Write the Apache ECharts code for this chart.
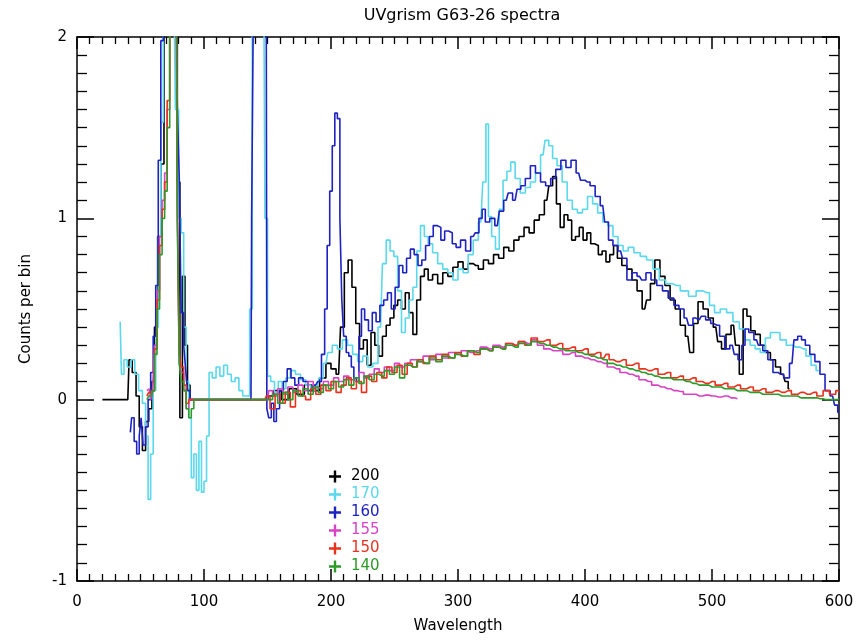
<!DOCTYPE html>
<html>
<head>
<meta charset="utf-8">
<script src="https://cdn.jsdelivr.net/npm/echarts@6/dist/echarts.min.js"></script>
<style>
  html, body { margin: 0; padding: 0; background: #fff; }
  #chart { width: 862px; height: 643px; }
</style>
</head>
<body>
<div id="chart"></div>
<script>
// [wavelength, counts] pairs, one list per extraction
const spec200 = [[20,0],[40,0],[42,0.22],[45,0.15],[48,0.02],[50,-0.15],[53,-0.28],[55,-0.12],[58,-0.05],[60,0.1],[62,0.4],[65,0.9],[67,1.3],[70,2.3],[75,2.6],[78,2.2],[80,1.2],[82,-0.1],[84,0.68],[86,0.3],[88,0.08],[90,0],[150,0],
  [152,0.02],[158,0.05],[164,0.0],[170,0.06],[176,0.03],[182,0.08],[188,0.05],[194,0.12],[198,0.2],[202,0.17],[206,0.14],[209,0.4],[212,0.7],[215,0.77],[218,0.62],[221,0.42],[224,0.28],[227,0.33],[230,0.19],[233,0.37],[236,0.3],[239,0.24],[242,0.35],[245,0.41],[248,0.45],[251,0.52],[254,0.55],[257,0.5],[260,0.59],[263,0.48],[266,0.36],[269,0.55],[272,0.68],[275,0.72],[278,0.66],[282,0.69],[286,0.64],[290,0.7],[294,0.68],[298,0.73],[302,0.76],[306,0.72],[310,0.75],[314,0.74],[318,0.72],[322,0.77],[326,0.75],[330,0.8],[334,0.78],[338,0.84],[342,0.82],[346,0.88],[350,0.9],[354,0.95],[358,0.92],[362,0.99],[366,1.02],[370,1.1],[373,1.18],[376,1.23],[379,1.08],[382,0.95],[385,1.02],[388,0.99],[391,0.88],[394,0.9],[397,0.95],[400,0.88],[403,0.92],[406,0.86],[409,0.85],[412,0.8],[415,0.82],[418,0.76],[421,0.8],[424,0.85],[427,0.78],[431,0.74],[435,0.72],[439,0.66],[443,0.6],[447,0.5],[450,0.55],[453,0.64],[457,0.77],[461,0.68],[465,0.63],[469,0.55],[473,0.5],[477,0.41],[481,0.35],[484,0.26],[487,0.42],[491,0.54],[495,0.5],[499,0.45],[503,0.4],[506,0.32],[509,0.28],[513,0.36],[517,0.41],[520,0.3],[523,0.14],[526,0.5],[529,0.46],[532,0.38],[536,0.36],[540,0.3],[544,0.26],[548,0.22],[552,0.18],[556,0.14],[559,0.1],[561,0.06]];

const spec170 = [[34,0.43],[36,0.14],[38,0.22],[41,0.18],[44,0.22],[47,0.14],[50,0.05],[53,-0.02],[55,-0.2],[57,-0.55],[59,-0.3],[61,0.05],[63,0.4],[65,0.9],[67,1.53],[69,2.3],[72,2.6],[76,2.4],[79,1.6],[81,1.0],[83,0.92],[85,0.4],[87,0.1],[89,-0.1],[91,-0.43],[93,-0.3],[95,-0.5],[97,-0.23],[99,-0.51],[101,-0.45],[103,-0.2],[105,0.15],[108,0.12],[111,0.18],[114,0.13],[117,0.19],[120,0.14],[123,0.1],[126,0.12],[129,0.05],[132,0.02],[135,0.02],[137,0.5],[139,2.2],[143,2.6],[147,2.4],[149,1.0],
  [151,0.13],[154,0.1],[157,0.04],[160,0.1],[163,0.06],[166,0.12],[170,0.16],[174,0.14],[178,0.11],[182,0.08],[186,0.05],[189,0.06],[192,0.12],[196,0.2],[199,0.26],[203,0.3],[207,0.28],[211,0.33],[215,0.3],[219,0.25],[223,0.21],[227,0.24],[231,0.18],[235,0.2],[239,0.4],[242,0.75],[245,0.88],[248,0.82],[251,0.79],[254,0.6],[257,0.37],[260,0.45],[263,0.55],[266,0.62],[269,0.82],[272,0.96],[275,0.9],[278,0.86],[282,0.81],[286,0.75],[290,0.72],[294,0.7],[298,0.66],[302,0.72],[306,0.7],[310,0.8],[314,0.88],[318,0.98],[321,1.2],[323,1.52],[325,1.01],[328,0.9],[331,0.83],[334,1.05],[337,1.21],[340,1.26],[343,1.31],[347,1.22],[351,1.14],[355,1.17],[359,1.2],[363,1.25],[367,1.35],[370,1.43],[373,1.4],[376,1.33],[380,1.29],[384,1.2],[388,1.1],[392,1.05],[396,1.03],[400,1.05],[404,1.12],[408,1.08],[412,1.03],[416,0.98],[420,0.96],[424,0.9],[428,0.85],[432,0.82],[436,0.84],[441,0.81],[446,0.79],[451,0.77],[456,0.72],[461,0.66],[466,0.64],[472,0.63],[478,0.6],[485,0.57],[490,0.6],[496,0.59],[500,0.52],[504,0.48],[509,0.5],[514,0.48],[519,0.43],[524,0.39],[528,0.33],[532,0.3],[536,0.28],[540,0.26],[544,0.34],[548,0.37],[551,0.37],[556,0.33],[561,0.3],[566,0.29],[572,0.28],[576,0.24],[580,0.19],[584,0.16]];

const spec160 = [[42,-0.18],[44,-0.1],[46,-0.23],[48,-0.3],[50,-0.2],[51,-0.1],[53,-0.25],[55,-0.15],[57,0],[59,0.15],[61,0.35],[63,0.63],[65,1.32],[67,1.98],[69,2.5],[74,2.6],[78,2.4],[80,1.6],[81,1.23],[83,0.48],[85,0.3],[86,0.17],[88,0.05],[90,0],[137,0],[138,1.0],[140,2.3],[145,2.6],[149,2.3],
  [150,-0.05],[152,-0.1],[154,-0.02],[156,-0.12],[158,-0.05],[161,0.05],[164,0.1],[167,0.17],[170,0.12],[173,0.08],[176,0.12],[180,0.1],[184,0.05],[188,0.08],[191,0.1],[194,0.25],[196,0.5],[198,0.85],[200,1.15],[202,1.4],[204,1.58],[206,1.55],[208,1.0],[209,0.55],[211,0.35],[213,0.26],[215,0.24],[217,0.18],[219,0.12],[221,0.1],[223,0.35],[225,0.5],[228,0.44],[231,0.38],[234,0.48],[237,0.43],[240,0.52],[243,0.55],[246,0.59],[249,0.5],[252,0.62],[255,0.74],[258,0.7],[261,0.78],[264,0.83],[267,0.8],[270,0.74],[273,0.77],[276,0.85],[279,0.9],[282,0.96],[285,0.95],[288,0.88],[291,0.93],[294,0.92],[297,0.86],[300,0.84],[304,0.88],[308,0.82],[312,0.9],[315,0.92],[318,1.0],[320,1.05],[323,0.98],[327,1.0],[331,0.96],[334,1.04],[338,1.1],[341,1.14],[345,1.1],[348,1.16],[351,1.18],[355,1.22],[359,1.29],[363,1.25],[367,1.2],[371,1.18],[375,1.22],[379,1.27],[383,1.32],[387,1.28],[391,1.32],[395,1.25],[398,1.21],[402,1.2],[406,1.18],[410,1.12],[414,1.07],[417,0.98],[420,0.88],[424,0.85],[428,0.82],[431,0.78],[435,0.66],[439,0.7],[443,0.68],[446,0.66],[450,0.7],[454,0.66],[459,0.63],[463,0.6],[468,0.56],[472,0.52],[476,0.5],[480,0.45],[483,0.41],[487,0.45],[490,0.44],[493,0.46],[497,0.44],[501,0.42],[504,0.41],[508,0.35],[512,0.28],[516,0.3],[519,0.25],[522,0.22],[525,0.3],[527,0.39],[531,0.37],[535,0.33],[538,0.3],[542,0.27],[546,0.22],[550,0.15],[554,0.14],[559,0.12],[563,0.2],[566,0.33],[569,0.35],[572,0.33],[575,0.3],[579,0.25],[583,0.21],[587,0.14],[591,0.05],[595,0.02],[598,-0.03],[600,-0.07]];

const spec155 = [[55,0.05],[57,0.06],[59,0.0],[60,0.05],[62,0.3],[64,0.6],[66,0.9],[68,1.1],[70,1.25],[72,1.6],[74,2.2],[78,2.5],[80,1.0],[81,0.2],[83,0.15],[85,0.05],[87,-0.05],[89,0.0],[91,0],[150,0],
  [152,0.05],[156,0.02],[160,0.06],[164,0.03],[168,0.07],[172,0.04],[176,0.08],[180,0.05],[184,0.1],[188,0.07],[192,0.06],[196,0.1],[200,0.08],[204,0.12],[208,0.1],[212,0.13],[216,0.11],[220,0.1],[224,0.15],[228,0.12],[232,0.14],[236,0.17],[240,0.15],[244,0.18],[248,0.16],[252,0.2],[256,0.18],[260,0.2],[265,0.22],[270,0.21],[275,0.24],[280,0.22],[285,0.25],[290,0.23],[295,0.26],[300,0.25],[305,0.27],[310,0.26],[315,0.27],[320,0.29],[325,0.28],[330,0.3],[335,0.29],[340,0.31],[345,0.3],[350,0.32],[355,0.31],[360,0.33],[365,0.3],[370,0.28],[375,0.27],[380,0.27],[385,0.25],[390,0.26],[395,0.24],[400,0.23],[405,0.22],[410,0.21],[415,0.2],[420,0.18],[425,0.17],[430,0.15],[435,0.14],[440,0.13],[445,0.11],[450,0.1],[455,0.08],[460,0.07],[465,0.06],[470,0.05],[475,0.045],[480,0.03],[485,0.03],[490,0.02],[495,0.025],[500,0.02],[505,0.015],[510,0.02],[515,0.01],[520,0.005]];

const spec150 = [[55,0.02],[58,0.04],[60,0.05],[62,0.28],[64,0.55],[66,0.85],[68,1.05],[70,1.2],[72,1.65],[74,2.3],[78,2.6],[80,1.1],[81,0.25],[83,0.18],[85,0.08],[87,-0.02],[89,0.0],[91,0],[148,0],
  [150,0.02],[154,-0.05],[158,0.03],[162,-0.02],[166,0.04],[170,-0.04],[174,0.05],[178,0.02],[182,0.0],[186,0.06],[190,0.03],[194,0.08],[198,0.05],[202,0.1],[206,0.04],[210,0.08],[214,0.12],[218,0.06],[222,0.1],[226,0.04],[230,0.13],[234,0.1],[238,0.15],[242,0.12],[246,0.18],[250,0.15],[254,0.19],[258,0.14],[262,0.2],[266,0.18],[270,0.22],[275,0.2],[280,0.24],[285,0.22],[290,0.25],[295,0.23],[300,0.26],[305,0.24],[310,0.27],[315,0.25],[320,0.28],[325,0.27],[330,0.29],[335,0.28],[340,0.31],[345,0.3],[350,0.32],[355,0.3],[360,0.34],[365,0.32],[370,0.33],[375,0.3],[380,0.31],[385,0.28],[390,0.29],[395,0.27],[400,0.28],[405,0.25],[410,0.26],[415,0.23],[418,0.25],[420,0.22],[425,0.21],[430,0.22],[435,0.19],[440,0.2],[445,0.17],[450,0.16],[455,0.17],[460,0.14],[465,0.15],[470,0.12],[475,0.13],[480,0.11],[485,0.12],[490,0.1],[495,0.09],[500,0.1],[505,0.08],[510,0.09],[515,0.07],[520,0.08],[525,0.06],[530,0.07],[535,0.05],[540,0.06],[545,0.04],[550,0.05],[555,0.04],[560,0.05],[565,0.03],[570,0.04],[575,0.03],[580,0.04],[585,0.02],[590,0.05],[595,0.03],[600,0.05]];

const spec140 = [[55,0.0],[58,0.02],[60,0.05],[62,0.25],[64,0.5],[66,0.8],[68,1.0],[70,1.15],[72,1.5],[74,2.1],[78,2.4],[80,1.0],[81,0.2],[83,0.1],[85,0.05],[87,-0.05],[89,-0.1],[91,-0.05],[93,0],[150,0],
  [152,0.0],[156,0.03],[160,-0.02],[164,0.04],[168,0.0],[172,0.05],[176,0.02],[180,0.06],[184,0.03],[188,0.07],[192,0.04],[196,0.08],[200,0.06],[204,0.1],[208,0.07],[212,0.11],[216,0.08],[220,0.12],[224,0.09],[228,0.13],[232,0.11],[236,0.14],[240,0.13],[244,0.16],[248,0.14],[252,0.18],[256,0.12],[260,0.19],[265,0.18],[270,0.21],[275,0.2],[280,0.23],[285,0.21],[290,0.24],[295,0.23],[300,0.25],[305,0.24],[310,0.27],[315,0.26],[320,0.28],[325,0.27],[330,0.29],[335,0.28],[340,0.3],[345,0.29],[350,0.31],[355,0.3],[360,0.32],[365,0.31],[370,0.3],[375,0.29],[380,0.28],[385,0.27],[390,0.27],[395,0.26],[400,0.25],[405,0.24],[410,0.23],[415,0.22],[420,0.2],[425,0.19],[430,0.18],[435,0.17],[440,0.16],[445,0.15],[450,0.14],[455,0.13],[460,0.12],[465,0.12],[470,0.11],[475,0.11],[480,0.1],[485,0.09],[490,0.08],[495,0.08],[500,0.07],[505,0.07],[510,0.06],[515,0.06],[520,0.05],[525,0.05],[530,0.04],[535,0.04],[540,0.03],[545,0.03],[550,0.03],[555,0.02],[560,0.02],[565,0.02],[570,0.01],[575,0.01],[580,0.01],[585,0.005],[590,0.0],[595,0.0],[600,0.0]];

const seriesNames = ['200', '170', '160', '155', '150', '140'];
const seriesData = [spec200, spec170, spec160, spec155, spec150, spec140];
const seriesColors = ['#000000', '#5ad8ec', '#1e22c0', '#d843c4', '#e8321e', '#2e9a2a'];

const xTicks = { min: 0, max: 600, interval: 100 };
const yTicks = { min: -1, max: 2, interval: 1 };

const chart = echarts.init(document.getElementById('chart'));
const FONT = 'DejaVu Sans';
const axisLineStyle = { lineStyle: { color: '#000', width: 1.5 } };

function xAx(pos, labels) {
  return {
    type: 'value', position: pos, min: xTicks.min, max: xTicks.max, interval: xTicks.interval,
    axisLine: { show: true, onZero: false, ...axisLineStyle },
    axisTick: { show: true, inside: true, length: 12, lineStyle: { color: '#000', width: 1.5 } },
    minorTick: { show: true, splitNumber: 10, length: 7, lineStyle: { color: '#000', width: 1.3 } },
    splitLine: { show: false },
    axisLabel: { show: labels, color: '#000', fontFamily: FONT, fontSize: 15, margin: 14 },
    name: labels ? 'Wavelength' : '', nameLocation: 'middle', nameGap: 38,
    nameTextStyle: { color: '#000', fontFamily: FONT, fontSize: 15 }
  };
}
function yAx(pos, labels) {
  return {
    type: 'value', position: pos, min: yTicks.min, max: yTicks.max, interval: yTicks.interval,
    axisLine: { show: true, onZero: false, ...axisLineStyle },
    axisTick: { show: true, inside: true, length: 17, lineStyle: { color: '#000', width: 1.5 } },
    minorTick: { show: true, splitNumber: 10, length: 10, lineStyle: { color: '#000', width: 1.3 } },
    splitLine: { show: false },
    axisLabel: { show: labels, color: '#000', fontFamily: FONT, fontSize: 15, margin: 10 },
    name: labels ? 'Counts per bin' : '', nameLocation: 'middle', nameGap: 43,
    nameTextStyle: { color: '#000', fontFamily: FONT, fontSize: 15 }
  };
}

const plusIcon = 'path://M4,0H6V4H10V6H6V10H4V6H0V4H4Z';

chart.setOption({
  backgroundColor: '#fff',
  animation: false,
  title: {
    text: 'UVgrism G63-26 spectra', left: 457, top: 3, textAlign: 'center',
    textStyle: { color: '#000', fontFamily: FONT, fontSize: 16, fontWeight: 'normal' }
  },
  grid: { left: 77, right: 23, top: 37, bottom: 62 },
  xAxis: [xAx('bottom', true), xAx('top', false)],
  yAxis: [yAx('left', true), yAx('right', false)],
  legend: {
    orient: 'vertical', left: 324, top: 464, itemWidth: 12, itemHeight: 12, itemGap: 3,
    icon: plusIcon, selectedMode: false,
    textStyle: { fontFamily: FONT, fontSize: 15, padding: [0, 0, 0, 5] },
    data: seriesNames.map((n, i) => ({ name: n, textStyle: { color: seriesColors[i] } }))
  },
  series: seriesNames.map((n, i) => ({
    name: n, type: 'line', step: 'middle', data: seriesData[i],
    xAxisIndex: 0, yAxisIndex: 0, showSymbol: false, symbol: 'none', clip: true,
    itemStyle: { color: seriesColors[i] },
    lineStyle: { color: seriesColors[i], width: 1.6 }
  }))
});
window.addEventListener('resize', () => chart.resize());
</script>
</body>
</html>
